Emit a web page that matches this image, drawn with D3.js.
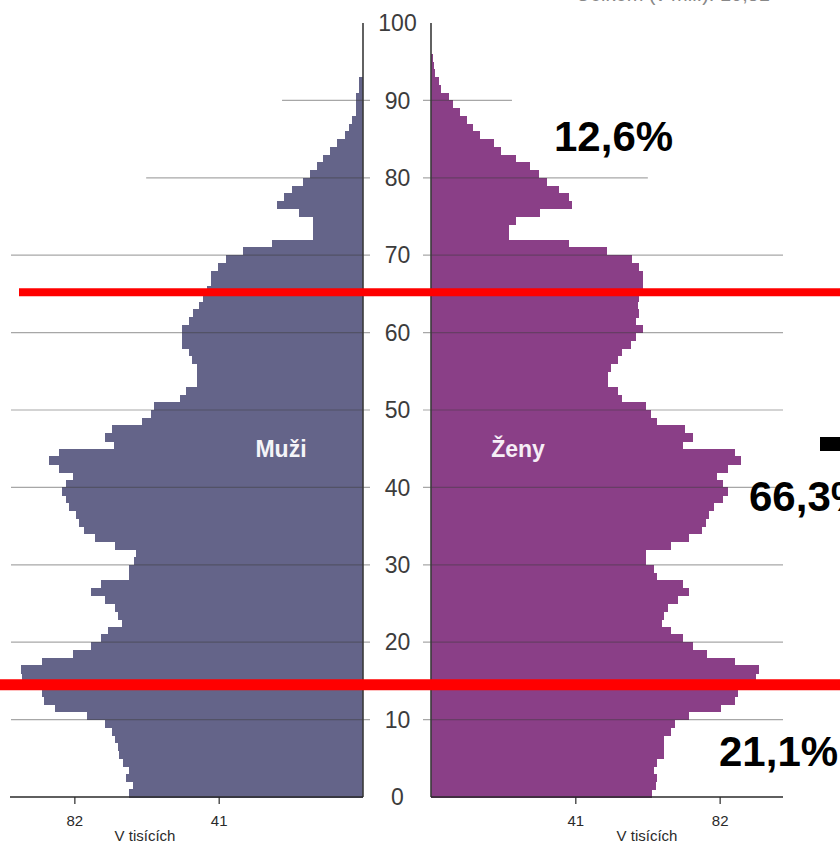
<!DOCTYPE html>
<html>
<head>
<meta charset="utf-8">
<script src="https://cdn.jsdelivr.net/npm/d3@7/dist/d3.min.js"></script>
<style>
  html, body { margin: 0; padding: 0; background: #fff; }
  svg { display: block; }
  .narrow { font-family: "Liberation Sans Narrow", "Arial Narrow", "Liberation Sans", sans-serif; }
</style>
</head>
<body>
<svg id="chart" width="840" height="845"></svg>
<script>
// Věk 0..95, počty v tisících
const ages = d3.range(0, 96);

const males = [
  66.4, 65.3, 67.2, 66.6, 68.3, 69.3, 69.5, 70.4, 71.4, 73.3,
  78.3, 87.5, 90.6, 91.3, 95.5, 96.8, 97.3, 91.3, 82.4, 77.3,
  74.5, 72.4, 68.5, 69.5, 70.4, 73.3, 77.3, 74.5, 66.4, 66.4,
  65.0, 64.5, 70.5, 76.2, 79.2, 80.7, 81.6, 83.5, 84.4, 85.4,
  84.4, 82.4, 86.4, 89.2, 86.4, 70.7, 73.3, 71.2, 62.9, 60.3,
  59.3, 52.0, 50.3, 47.3, 47.3, 47.3, 48.6, 49.3, 51.3, 51.3,
  51.3, 49.3, 48.4, 46.5, 45.5, 44.4, 43.2, 43.2, 41.1, 39.0,
  34.2, 25.9, 14.2, 14.2, 14.2, 18.3, 24.5, 22.5, 20.3, 17.1,
  15.1, 13.1, 11.4, 9.4, 7.3, 5.2, 4.1, 3.1, 1.9, 1.9,
  1.9, 1.2, 1.2, 0, 0, 0
];

const females = [
  62.9, 64.0, 64.1, 63.3, 64.1, 66.1, 66.1, 66.1, 68.1, 69.3,
  73.3, 82.3, 86.4, 87.3, 90.6, 92.3, 93.3, 86.4, 78.3, 74.3,
  71.5, 68.1, 65.5, 66.1, 67.4, 70.2, 73.3, 71.5, 64.1, 63.3,
  61.2, 61.2, 68.1, 73.3, 76.9, 78.1, 79.0, 80.4, 83.0, 84.5,
  83.0, 81.3, 84.5, 88.0, 86.4, 71.5, 74.3, 72.1, 64.1, 62.4,
  61.2, 54.4, 53.1, 50.3, 50.3, 51.0, 53.1, 54.4, 56.9, 58.3,
  60.3, 58.3, 59.1, 58.7, 59.1, 60.3, 60.3, 60.3, 59.1, 57.1,
  50.1, 39.2, 22.1, 22.1, 24.2, 31.0, 40.0, 39.2, 36.3, 33.0,
  30.8, 28.0, 24.2, 19.9, 18.0, 13.8, 11.8, 10.2, 8.3, 6.2,
  5.0, 2.8, 2.2, 1.0, 0.8, 0.5
];

const ageTicks = d3.range(0, 101, 10);
// how far each horizontal grid line reaches (v tisících)
const gridTicks = [10, 20, 30, 40, 50, 60, 70, 80, 90];
const gridReach = [100, 100, 100, 100, 100, 100, 100, 61.6, 23];
const valueTicks = [41, 82];

// groups split by the red lines, and their shares
const groupBounds = [65.2, 14.5];
const groupLabels = ['12,6%', '66,3%', '21,1%'];
const groupLabelAges = [83.5, 37, 4];

const maleColor = '#646489';
const femaleColor = '#8a3f87';

const svg = d3.select('#chart');

const y = d3.scaleLinear().domain([0, 100]).range([797, 23]);
const xL = d3.scaleLinear().domain([0, 100]).range([363, 11]);
const xR = d3.scaleLinear().domain([0, 100]).range([431, 783]);

// 1. Bars
svg.append('g')
  .attr('shape-rendering', 'crispEdges')
  .selectAll('rect')
  .data(ages.filter(a => males[a] > 0))
  .join('rect')
  .attr('x', a => xL(males[a]))
  .attr('y', a => y(a + 1))
  .attr('width', a => xL(0) - xL(males[a]))
  .attr('height', a => y(a) - y(a + 1) + 0.6)
  .attr('fill', maleColor);

svg.append('g')
  .attr('shape-rendering', 'crispEdges')
  .selectAll('rect')
  .data(ages.filter(a => females[a] > 0))
  .join('rect')
  .attr('x', xR(0))
  .attr('y', a => y(a + 1))
  .attr('width', a => xR(females[a]) - xR(0))
  .attr('height', a => y(a) - y(a + 1) + 0.6)
  .attr('fill', femaleColor);

// 2. Grid lines (drawn over the bars, semi transparent)
const grid = svg.append('g')
  .attr('stroke', 'rgba(60,60,60,0.45)')
  .attr('stroke-width', 1.2);

gridTicks.forEach((t, i) => {
  grid.append('line')
    .attr('x1', xL(gridReach[i])).attr('x2', xL(0) + 7)
    .attr('y1', y(t)).attr('y2', y(t));
  grid.append('line')
    .attr('x1', xR(0) - 8).attr('x2', xR(gridReach[i]))
    .attr('y1', y(t)).attr('y2', y(t));
});

// 3. Vertical axis lines
svg.append('line')
  .attr('x1', xL(0)).attr('x2', xL(0))
  .attr('y1', y(100)).attr('y2', y(0))
  .attr('stroke', '#3a3a3a').attr('stroke-width', 1.6);
svg.append('line')
  .attr('x1', xR(0)).attr('x2', xR(0))
  .attr('y1', y(100)).attr('y2', y(0))
  .attr('stroke', '#3a3a3a').attr('stroke-width', 1.6);

// age labels in the middle
svg.append('g')
  .selectAll('text')
  .data(ageTicks)
  .join('text')
  .attr('class', 'narrow')
  .attr('x', (xL(0) + xR(0)) / 2 + 0.5)
  .attr('y', d => y(d))
  .attr('dy', '0.36em')
  .attr('text-anchor', 'middle')
  .attr('font-size', 23)
  .attr('fill', '#3c3c3c')
  .text(d => d);

// 4. Bottom axes
const styleAxis = g => {
  g.select('.domain').attr('stroke', '#2a2a2a').attr('stroke-width', 1.6);
  g.selectAll('.tick line').attr('stroke', '#2a2a2a').attr('stroke-width', 1.2);
  g.selectAll('.tick text')
    .attr('class', 'narrow')
    .attr('font-size', 15)
    .attr('fill', '#2a2a2a')
    .attr('dy', '1.25em');
};

svg.append('g')
  .attr('transform', `translate(0,${y(0)})`)
  .call(d3.axisBottom(xL).tickValues(valueTicks).tickSize(7).tickSizeOuter(0))
  .call(styleAxis)
  .call(g => g.select('.domain').attr('d', `M${xL(100) - 1},0H${xL(0)}`));

svg.append('g')
  .attr('transform', `translate(0,${y(0)})`)
  .call(d3.axisBottom(xR).tickValues(valueTicks).tickSize(7).tickSizeOuter(0))
  .call(styleAxis)
  .call(g => g.select('.domain').attr('d', `M${xR(0)},0H${xR(100)}`));

svg.append('text')
  .attr('class', 'narrow')
  .attr('x', 145).attr('y', 841)
  .attr('text-anchor', 'middle')
  .attr('font-size', 15)
  .attr('fill', '#2a2a2a')
  .text('V tisících');
svg.append('text')
  .attr('class', 'narrow')
  .attr('x', 647).attr('y', 841)
  .attr('text-anchor', 'middle')
  .attr('font-size', 15)
  .attr('fill', '#2a2a2a')
  .text('V tisících');

// 5. Sex labels
svg.append('text')
  .attr('x', 281).attr('y', 457)
  .attr('text-anchor', 'middle')
  .attr('font-family', 'Liberation Sans, Arial, sans-serif')
  .attr('font-weight', 'bold')
  .attr('font-size', 23)
  .attr('fill', '#f4f4f8')
  .text('Muži');
svg.append('text')
  .attr('x', 518).attr('y', 457)
  .attr('text-anchor', 'middle')
  .attr('font-family', 'Liberation Sans, Arial, sans-serif')
  .attr('font-weight', 'bold')
  .attr('font-size', 23)
  .attr('fill', '#f6eef6')
  .text('Ženy');

// top caption, mostly cut off by the frame
svg.append('text')
  .attr('class', 'narrow')
  .attr('x', 770).attr('y', 1)
  .attr('text-anchor', 'end')
  .attr('font-size', 20)
  .attr('fill', '#888')
  .text('Celkem (v mil.): 10,51');

// 6. Red dividing lines and group shares
svg.append('line')
  .attr('x1', 19).attr('x2', 840)
  .attr('y1', y(groupBounds[0])).attr('y2', y(groupBounds[0]))
  .attr('stroke', '#ff0000').attr('stroke-width', 8);
svg.append('line')
  .attr('x1', 0).attr('x2', 840)
  .attr('y1', y(groupBounds[1])).attr('y2', y(groupBounds[1]))
  .attr('stroke', '#ff0000').attr('stroke-width', 11);

const labelX = [554, 749, 719];
svg.append('g')
  .selectAll('text')
  .data(groupLabels)
  .join('text')
  .attr('x', (d, i) => labelX[i])
  .attr('y', (d, i) => y(groupLabelAges[i]))
  .attr('font-family', 'Liberation Sans, Arial, sans-serif')
  .attr('font-weight', 'bold')
  .attr('font-size', 42)
  .attr('fill', '#000')
  .text(d => d);

// black dash cut by the right edge
svg.append('rect')
  .attr('x', 820).attr('y', 437)
  .attr('width', 20).attr('height', 14)
  .attr('fill', '#000');
</script>
</body>
</html>
